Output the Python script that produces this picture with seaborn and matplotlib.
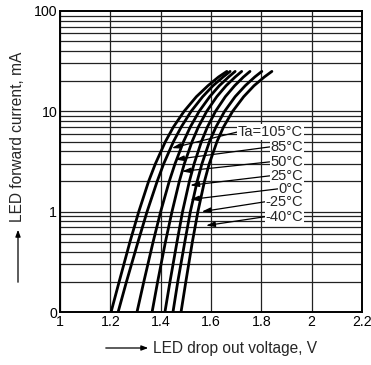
import numpy as np
import pandas as pd
import matplotlib
matplotlib.use("Agg")
import matplotlib.pyplot as plt
import seaborn as sns

# ---- data ----
currents = [0.1, 0.2, 0.5, 1, 2, 3, 5, 7, 10, 14, 18, 22, 25]   # mA
temps = ["Ta=105°C", "85°C", "50°C", "25°C", "0°C", "-25°C", "-40°C"]
v_105 = [1.203, 1.235, 1.278, 1.313, 1.352, 1.379, 1.419, 1.451, 1.493, 1.542, 1.588, 1.630, 1.663]
v_85 = [1.231, 1.264, 1.310, 1.346, 1.386, 1.412, 1.451, 1.482, 1.521, 1.567, 1.608, 1.648, 1.676]
v_50 = [1.306, 1.333, 1.370, 1.400, 1.434, 1.457, 1.491, 1.518, 1.553, 1.595, 1.633, 1.670, 1.696]
v_25 = [1.366, 1.388, 1.419, 1.445, 1.474, 1.494, 1.525, 1.550, 1.583, 1.623, 1.660, 1.696, 1.722]
v_0 = [1.417, 1.437, 1.465, 1.487, 1.514, 1.533, 1.562, 1.586, 1.618, 1.657, 1.694, 1.729, 1.755]
v_m25 = [1.449, 1.468, 1.496, 1.518, 1.545, 1.564, 1.594, 1.620, 1.654, 1.696, 1.736, 1.774, 1.802]
v_m40 = [1.481, 1.500, 1.526, 1.548, 1.574, 1.593, 1.624, 1.650, 1.686, 1.730, 1.771, 1.812, 1.842]
series = [v_105, v_85, v_50, v_25, v_0, v_m25, v_m40]

# label anchor (right edge of text) and arrow tip positions (V, mA)
label_x = 1.966
label_y = [6.25, 4.43, 3.14, 2.28, 1.69, 1.257, 0.892]
tip_x = [1.444, 1.457, 1.484, 1.517, 1.517, 1.563, 1.580]
tip_y = [4.30, 3.31, 2.52, 1.83, 1.32, 1.00, 0.726]

x_ticks = [1, 1.2, 1.4, 1.6, 1.8, 2, 2.2]
x_ticklabels = ["1", "1.2", "1.4", "1.6", "1.8", "2", "2.2"]
y_ticks = [0.1, 1, 10, 100]
y_ticklabels = ["0", "1", "10", "100"]

rows = []
for t, vs in zip(temps, series):
    for i, v in zip(currents, vs):
        rows.append({"temp": t, "V": v, "I": i})
df = pd.DataFrame(rows)

sns.set_style("white")
plt.rcParams["font.family"] = ["Liberation Sans", "DejaVu Sans"]

fig = plt.figure(figsize=(3.71, 3.65), dpi=100)
ax = fig.add_axes([0.1617, 0.1452, 0.8140, 0.8247])

ax.set_yscale("log")
ax.set_xlim(1, 2.2)
ax.set_ylim(0.1, 100)

# grid
for xv in x_ticks:
    ax.axvline(xv, color="#222222", lw=0.9, zorder=1)
for dec in [0.1, 1, 10]:
    for m in range(1, 10):
        ax.axhline(dec * m, color="#222222", lw=0.9, zorder=1)

sns.lineplot(data=df, x="V", y="I", hue="temp", palette=["black"] * len(temps),
             estimator=None, sort=False, legend=False, lw=2.0, ax=ax, zorder=3)

for t, ly, tx, ty in zip(temps, label_y, tip_x, tip_y):
    ax.annotate(t, xy=(tx, ty), xytext=(label_x, ly), ha="right", va="center",
                fontsize=10.5, zorder=5,
                bbox=dict(boxstyle="square,pad=0.05", fc="white", ec="none"),
                arrowprops=dict(arrowstyle="-|>,head_length=0.5,head_width=0.15",
                                color="black", lw=0.9, shrinkA=0, shrinkB=0,
                                relpos=(0, 0.5)))

ax.set_xticks(x_ticks)
ax.set_xticklabels(x_ticklabels)
ax.set_yticks(y_ticks)
ax.set_yticklabels(y_ticklabels)
ax.yaxis.set_minor_locator(matplotlib.ticker.NullLocator())
ax.tick_params(axis="both", length=0, labelsize=10.2, colors="black", pad=2)
ax.set_xlabel("")
ax.set_ylabel("")
for s in ax.spines.values():
    s.set_visible(True)
    s.set_color("black")
    s.set_linewidth(1.4)
    s.set_zorder(6)

# axis labels with leading arrows
fig.text(153 / 371, 1 - 348 / 365, "LED drop out voltage, V", ha="left", va="center", fontsize=11.2)
fig.add_artist(matplotlib.patches.FancyArrowPatch(
    (103 / 371, 1 - 348 / 365), (151 / 371, 1 - 348 / 365), transform=fig.transFigure,
    arrowstyle="-|>,head_length=4,head_width=1.5", color="black", lw=0.9, mutation_scale=1))
fig.text(18 / 371, 1 - 137 / 365, "LED forward current, mA", ha="center", va="center",
         rotation=90, fontsize=11.2)
fig.add_artist(matplotlib.patches.FancyArrowPatch(
    (18 / 371, 1 - 285 / 365), (18 / 371, 1 - 227 / 365), transform=fig.transFigure,
    arrowstyle="-|>,head_length=4,head_width=1.5", color="black", lw=0.9, mutation_scale=1))

fig.savefig("out.png", dpi=100)
